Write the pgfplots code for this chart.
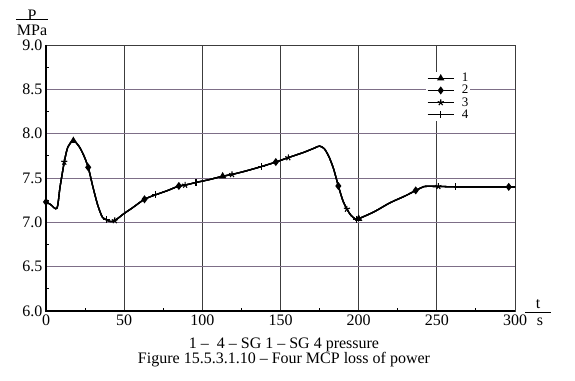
\documentclass[border=0pt]{standalone}
\usepackage{fontspec}
\setmainfont{Liberation Serif}
\usepackage{pgfplots}
\usepackage{pgfplotstable}
\pgfplotsset{compat=1.18}
\definecolor{gridh}{RGB}{125,110,135}
\definecolor{gridv}{RGB}{60,60,60}
\pgfplotstableread{
t p
0 7.23
3 7.20
7 7.16
9 7.40
11.7 7.68
14 7.85
17.5 7.92
21 7.86
24 7.76
27 7.62
30 7.40
33 7.20
36 7.06
38.5 7.03
41 7.01
44 7.02
50 7.10
55 7.16
63 7.26
70 7.31
78 7.36
85 7.41
89 7.42
96 7.45
104 7.48
113 7.52
119 7.54
128 7.58
138 7.63
147 7.68
155 7.73
165 7.79
172 7.84
175 7.86
178 7.83
181 7.74
184 7.60
187 7.41
190 7.24
192.5 7.15
195 7.08
198.5 7.03
200 7.04
210 7.12
220 7.22
230 7.30
236.5 7.36
240 7.39
242 7.405
251 7.405
262 7.40
280 7.40
296 7.40
300 7.40
}\curve
\begin{document}
\begin{tikzpicture}
\begin{axis}[scale only axis,
  width=469pt, height=266pt,
  xmin=0, xmax=300, ymin=6, ymax=9,
  xtick={0,50,...,300}, ytick={6,6.5,...,9},
  minor xtick={25,75,...,275}, minor ytick={6.25,6.75,...,8.75},
  tick pos=left, tick align=inside,
  major tick length=0pt, minor tick length=3pt,
  minor tick style={black, line width=1pt},
  grid=major,
  major x grid style={gridv, line width=0.9pt},
  major y grid style={gridh, line width=0.9pt},
  axis line style={gridv, line width=0.9pt},
  /pgf/number format/assume math mode=true,
  yticklabel style={/pgf/number format/.cd, fixed, fixed zerofill, precision=1},
  xticklabel style={/pgf/number format/.cd, fixed, precision=0},
  every tick label/.append style={font=\fontsize{16}{17}\selectfont},
  legend style={at={(0.81,0.90)}, anchor=north west, draw=none, fill=white,
    font=\fontsize{13}{13}\selectfont, row sep=1pt, inner sep=1pt,
    nodes={inner sep=0.5pt}},
  legend cell align=left,
  legend image code/.code={\draw[#1, mark indices={2}] plot coordinates {(0pt,0pt) (13pt,0pt) (26pt,0pt)}; \path (33pt,0pt);},
  clip=false,
]
\addplot[black, line width=1.3pt, smooth, mark=triangle*, mark size=3pt,
  mark indices={7,26,43}, mark options={solid, fill=black}] table[x=t,y=p]{\curve};
\addplot[black, line width=1.3pt, smooth, mark=diamond*, mark size=3pt,
  mark indices={1,10,19,22,30,38,47,53}, mark options={solid, fill=black}] table[x=t,y=p]{\curve};
\addplot[black, line width=1.3pt, smooth, mark=star, mark size=3.2pt,
  mark indices={5,16,23,27,31,40,50}, mark options={solid, line width=1.1pt}] table[x=t,y=p]{\curve};
\addplot[black, line width=1.3pt, smooth, mark=+, mark size=3.4pt,
  mark indices={14,20,24,29,42,51}, mark options={solid, line width=1.2pt}] table[x=t,y=p]{\curve};
\legend{1,2,3,4}
\draw[black, line width=2pt] (rel axis cs:0,1) -- (rel axis cs:0,0) -- (rel axis cs:1,0);
\end{axis}
\path (-46pt,-69pt) rectangle (529pt,311pt);
\node[font=\fontsize{16}{17}\selectfont, inner sep=0pt] at (-14pt,296pt) {P};
\draw[black, line width=0.8pt] (-30pt,291.5pt) -- (2pt,291.5pt);
\node[font=\fontsize{16}{17}\selectfont, inner sep=0pt] at (-14pt,281pt) {MPa};
\node[font=\fontsize{16}{17}\selectfont, inner sep=0pt] at (492pt,7pt) {t};
\draw[black, line width=0.8pt] (479pt,-1pt) -- (505pt,-1pt);
\node[font=\fontsize{16}{17}\selectfont, inner sep=0pt] at (494pt,-11pt) {s};
\node[font=\fontsize{16}{17}\selectfont, inner sep=0pt] at (238pt,-34pt) {1 –\ \ 4 – SG 1 – SG 4 pressure};
\node[font=\fontsize{16}{17}\selectfont, inner sep=0pt] at (238pt,-49pt) {Figure 15.5.3.1.10 – Four MCP loss of power};
\end{tikzpicture}
\end{document}
